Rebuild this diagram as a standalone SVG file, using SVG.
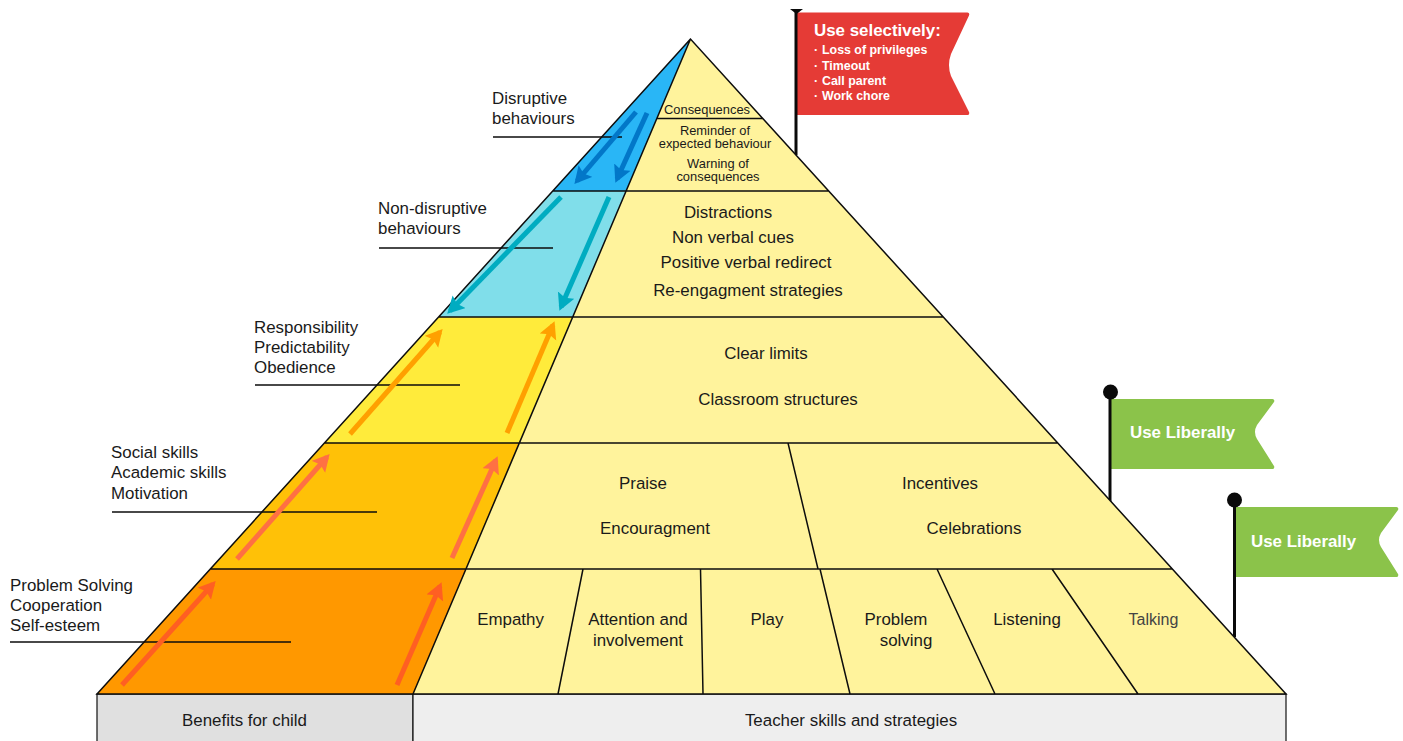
<svg xmlns="http://www.w3.org/2000/svg" width="1403" height="741" viewBox="0 0 1403 741">
<style>
text{font-family:"Liberation Sans",Arial,sans-serif;fill:#1a1a1a;font-size:16.9px}
.m{text-anchor:middle}
.s{font-size:12.9px}
.w{fill:#fff;font-weight:bold}
.t{font-size:12.400px}
.ln{stroke:#0d0d0d;stroke-width:1.5;fill:none}
.pole{stroke:#0a0a0a;stroke-width:3;fill:none}
.a{stroke-width:5;fill:none}
</style>
<defs>
<marker id="ab1" markerUnits="userSpaceOnUse" markerWidth="22" markerHeight="22" refX="13" refY="9" orient="auto"><path d="M0 0L17 9L0 18L3 9Z" fill="#0277c8"/></marker>
<marker id="ab2" markerUnits="userSpaceOnUse" markerWidth="22" markerHeight="22" refX="13" refY="9" orient="auto"><path d="M0 0L17 9L0 18L3 9Z" fill="#00acc1"/></marker>
<marker id="ab3" markerUnits="userSpaceOnUse" markerWidth="22" markerHeight="22" refX="13" refY="9" orient="auto"><path d="M0 0L17 9L0 18L3 9Z" fill="#ffa000"/></marker>
<marker id="ab4" markerUnits="userSpaceOnUse" markerWidth="22" markerHeight="22" refX="13" refY="9" orient="auto"><path d="M0 0L17 9L0 18L3 9Z" fill="#ff7043"/></marker>
<marker id="ab5" markerUnits="userSpaceOnUse" markerWidth="22" markerHeight="22" refX="13" refY="9" orient="auto"><path d="M0 0L17 9L0 18L3 9Z" fill="#ff5f22"/></marker>
</defs>
<g id="base-benefits"><rect x="97" y="694" width="316" height="50" fill="#e0e0e0" stroke="#111" stroke-width="1.2"/><text class="m" x="244.500" y="726">Benefits for child</text></g>
<g id="base-teacher"><rect x="413" y="694" width="873" height="50" fill="#eeeeee" stroke="#111" stroke-width="1.2"/><text class="m" x="851" y="726">Teacher skills and strategies</text></g>
<g id="flag-red"><path d="M797 12.500H967a2 2 0 0 1 2 3L951 54q-4 11 0 22l18 36a2 2 0 0 1-2 3H797Z" fill="#e53b36"/><path class="pole" d="M796 10V155"/><path d="M790 9H803L796.500 14Z" fill="#0a0a0a"/><text class="w" x="814" y="36">Use selectively:</text><text class="w t" x="814" y="54">·</text><text class="w t" x="822" y="54">Loss of privileges</text><text class="w t" x="814" y="70">·</text><text class="w t" x="822" y="70">Timeout</text><text class="w t" x="814" y="85">·</text><text class="w t" x="822" y="85">Call parent</text><text class="w t" x="814" y="100">·</text><text class="w t" x="822" y="100">Work chore</text></g>
<g id="flag-green-1"><path d="M1111 399H1272a2 2 0 0 1 2 3L1257 425q-4 7 0 14l17 27a2 2 0 0 1-2 3H1111Z" fill="#8bc34a"/><path class="pole" d="M1110 392V502"/><circle cx="1110.500" cy="392" r="7.500" fill="#0a0a0a"/><text class="w" x="1130" y="438">Use Liberally</text></g>
<g id="flag-green-2"><path d="M1233 507H1396a2 2 0 0 1 2 3L1381 533q-4 7 0 14l17 27a2 2 0 0 1-2 3H1233Z" fill="#8bc34a"/><path class="pole" d="M1234.500 500V637"/><circle cx="1234.500" cy="500" r="7.500" fill="#0a0a0a"/><text class="w" x="1251" y="547">Use Liberally</text></g>
<g id="right-pyramid"><path d="M690.500 39L1286 694H413Z" fill="#fff39c"/></g>
<g id="tier-disruptive"><path d="M690.500 39L626 191H552.800Z" fill="#29b6f6"/></g>
<g id="tier-nondisruptive"><path d="M552.800 191H626L572.700 317H438.600Z" fill="#80deea"/></g>
<g id="tier-responsibility"><path d="M438.600 317H572.700L519 443H324.400Z" fill="#ffeb3b"/></g>
<g id="tier-social"><path d="M324.400 443H519L466 569H210.300Z" fill="#ffc107"/></g>
<g id="tier-problem"><path d="M210.300 569H466L413 694H97Z" fill="#ff9800"/></g>
<g id="connectors">
<path class="ln" d="M690.500 39L97 694H1286ZM690.500 39L413 694M657 118.500H762.500M552.800 191H828.700M438.600 317H943.200M324.400 443H1057.800M210.300 569H1172.300M788 443L818 569M583 569L558 694M700.500 569L703 694M820 569L850 694M937 569L995 694M1052 569L1138 694"/>
<path class="ln" d="M493 137H622M379 248H553M255 385H460M112 512H377M10 642H291"/>
<path class="a" stroke="#0277c8" marker-end="url(#ab1)" d="M636 112L577 181"/>
<path class="a" stroke="#0277c8" marker-end="url(#ab1)" d="M647 113L617 179"/>
<path class="a" stroke="#00acc1" marker-end="url(#ab2)" d="M561 197L450 311"/>
<path class="a" stroke="#00acc1" marker-end="url(#ab2)" d="M609 197L561 307"/>
<path class="a" stroke="#ffa000" marker-end="url(#ab3)" d="M350 434L440 332"/>
<path class="a" stroke="#ffa000" marker-end="url(#ab3)" d="M507 433L553 325"/>
<path class="a" stroke="#ff7043" marker-end="url(#ab4)" d="M237 559L327 457"/>
<path class="a" stroke="#ff7043" marker-end="url(#ab4)" d="M452 558L496 460"/>
<path class="a" stroke="#ff5f22" marker-end="url(#ab5)" d="M122 685L213 584"/>
<path class="a" stroke="#ff5f22" marker-end="url(#ab5)" d="M397 685L440 586"/>
</g>
<g id="labels-left">
<text x="492" y="104">Disruptive</text><text x="492" y="124">behaviours</text>
<text x="378" y="214">Non-disruptive</text><text x="378" y="234">behaviours</text>
<text x="254" y="333">Responsibility</text><text x="254" y="353">Predictability</text><text x="254" y="373">Obedience</text>
<text x="111" y="458">Social skills</text><text x="111" y="478">Academic skills</text><text x="111" y="499">Motivation</text>
<text x="10" y="591">Problem Solving</text><text x="10" y="611">Cooperation</text><text x="10" y="631">Self-esteem</text>
</g>
<g id="labels-right">
<text class="m s" x="707" y="114">Consequences</text>
<text class="m s" x="715" y="135">Reminder of</text><text class="m s" x="715" y="148">expected behaviour</text>
<text class="m s" x="718" y="168">Warning of</text><text class="m s" x="718" y="181">consequences</text>
<text class="m" x="728" y="218">Distractions</text><text class="m" x="733" y="243">Non verbal cues</text><text class="m" x="746" y="268">Positive verbal redirect</text><text class="m" x="748" y="296">Re-engagment strategies</text>
<text class="m" x="766" y="359">Clear limits</text><text class="m" x="778" y="405">Classroom structures</text>
<text class="m" x="643" y="489">Praise</text><text class="m" x="655" y="534">Encouragment</text>
<text class="m" x="940" y="489">Incentives</text><text class="m" x="974" y="534">Celebrations</text>
<text class="m" x="510.500" y="625">Empathy</text>
<text class="m" x="638" y="625">Attention and</text><text class="m" x="638" y="646">involvement</text>
<text class="m" x="767" y="625">Play</text>
<text class="m" x="896" y="625">Problem</text><text class="m" x="906" y="646">solving</text>
<text class="m" x="1027" y="625">Listening</text>
<text class="m" x="1153.500" y="625" style="fill:#444;font-size:16px">Talking</text>
</g>
</svg>
